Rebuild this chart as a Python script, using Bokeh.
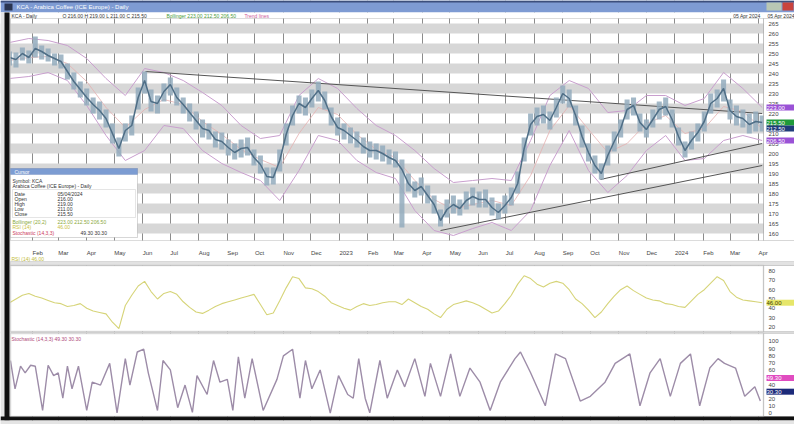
import pandas as pd
from bokeh.plotting import figure
from bokeh.models import (Range1d, FixedTicker, Label, LabelSet, BoxAnnotation,
                          ColumnDataSource)
from bokeh.core.properties import value
from bokeh.embed import file_html
from bokeh.resources import INLINE

FONT = "Liberation Sans"

# ---------------- data ----------------
week_start = "2022-01-07"   # weekly bars
close = [248.0, 247.0, 250.0, 248.0, 252.5, 251.0, 249.0, 247.5, 246.0, 241.0,
         236.0, 232.0, 228.0, 224.5, 221.5, 217.5, 210.0, 202.5, 211.5, 214.0,
         228.0, 236.5, 226.0, 225.0, 231.0, 234.5, 228.0, 224.5, 220.5, 216.5,
         212.5, 211.5, 207.0, 206.0, 203.0, 200.5, 202.5, 203.0, 198.0, 194.5,
         188.5, 188.0, 196.5, 209.5, 219.0, 225.0, 223.0, 227.5, 231.5, 226.5,
         218.5, 213.0, 211.5, 209.0, 206.5, 203.5, 201.5, 201.5, 200.0, 198.0,
         196.5, 192.0, 185.0, 181.5, 183.5, 179.0, 174.5, 166.5, 172.0, 174.5,
         172.5, 176.5, 178.5, 177.0, 177.0, 173.0, 170.5, 174.0, 178.0, 185.0,
         202.5, 214.5, 218.5, 219.5, 216.5, 223.0, 230.0, 227.5, 219.0, 208.5,
         200.5, 194.0, 190.0, 199.0, 206.0, 212.5, 222.0, 224.0, 215.5, 212.0,
         217.0, 222.0, 223.5, 217.0, 208.5, 201.5, 206.5, 210.5, 216.0, 225.0,
         227.5, 232.5, 221.5, 218.5, 217.5, 214.5, 216.0, 215.5]
high = [251, 250.5, 253, 251.5, 258.5, 254, 252.5, 250, 249.5, 245,
        240.5, 236, 232.5, 228, 226, 222, 215, 208, 215, 219,
        233, 241, 232, 229, 235, 238, 233, 228, 225, 221,
        217, 215, 211, 210.5, 207, 205, 207, 208, 202, 199,
        193, 193, 202, 215, 224, 229, 228, 232, 236, 231,
        223, 218, 215, 213, 211, 208, 206, 205, 204, 202,
        201, 197, 190, 186, 188, 184, 179, 172, 177, 179,
        177, 181, 183, 181, 182, 178, 175, 179, 183, 191,
        208, 220, 223, 224, 221, 228, 234, 232, 224, 214,
        205, 199, 195, 204, 211, 217, 227, 228, 220, 217,
        222, 226, 228, 222, 213, 206, 211, 215, 221, 230,
        232, 237, 227, 224, 222, 220, 221, 219]
low = [244, 243, 246.5, 245, 248, 247, 246, 244, 242.5, 237,
       232, 228, 224, 220, 217, 213, 205, 198.5, 206, 209,
       222, 230, 221, 220, 226, 229, 224, 220, 216, 212,
       208, 207, 203, 202, 199, 197, 198, 199, 194, 190,
       184, 184.5, 191, 204, 214, 220, 219, 223, 226, 222,
       214, 209, 207, 205, 203, 200, 198, 197, 196, 194.5,
       193, 163, 181, 178, 179, 175, 170, 163.5, 168, 170,
       169, 172, 174, 173, 173, 169, 167, 170, 174, 180,
       196, 209, 214, 215, 212, 218, 225, 223, 214, 203,
       196, 190, 187, 194, 201, 208, 217, 219, 211, 208,
       213, 217, 219, 213, 204, 198, 202, 206, 211, 220,
       223, 226, 217, 214, 213, 210, 211, 211]
# Bollinger bands, one value every third week
band_upper = [255.5, 257.5, 256.5, 254.0, 247.5, 237.5, 229.0, 242.5, 240.5, 236.5,
              230.5, 224.0, 214.0, 207.5, 209.0, 229.0, 237.5, 232.5, 222.5, 214.0,
              209.0, 201.5, 192.5, 185.5, 186.5, 187.5, 186.5, 206.5, 229.0, 236.5,
              232.5, 220.5, 221.5, 229.0, 229.0, 224.0, 227.5, 240.5, 232.5, 223.0]
band_mid = [246.5, 248.0, 248.5, 245.0, 236.0, 223.0, 213.0, 222.0, 227.0, 224.5,
            216.0, 209.5, 202.0, 197.0, 193.0, 210.0, 223.0, 219.5, 209.5, 202.0,
            198.0, 186.5, 177.0, 172.0, 174.5, 176.5, 174.0, 189.0, 211.5, 224.0,
            212.0, 200.5, 205.0, 215.0, 219.0, 210.0, 212.5, 223.5, 221.0, 212.5]
band_lower = [237.5, 238.5, 240.5, 236.5, 224.0, 209.0, 196.5, 201.5, 214.0, 212.5,
              201.5, 195.0, 190.5, 186.5, 176.5, 191.5, 209.0, 206.5, 196.5, 190.5,
              187.5, 171.5, 161.5, 159.0, 162.5, 165.5, 161.5, 171.5, 194.0, 211.5,
              191.5, 180.5, 189.0, 201.5, 209.0, 196.5, 197.5, 206.5, 209.0, 206.5]
# trend lines
resist_dates = ["2022-06-04", "2024-04-05"]
resist_vals = [241.0, 220.0]
support1_dates = ["2023-04-21", "2024-04-05"]
support1_vals = [161.5, 194.0]
support2_dates = ["2023-10-12", "2024-04-05"]
support2_vals = [187.0, 205.0]
# RSI(14), weekly
rsi = [46, 50, 54, 56, 53, 51, 48.5, 46, 45, 42,
       43, 45, 40, 37, 35.5, 34, 25, 18, 43, 54,
       64, 69, 58, 50, 56, 58, 55, 47, 41, 36,
       34.5, 38, 42, 45, 47, 49, 51, 53, 55, 44,
       33, 35, 48, 62, 74, 72, 62, 61, 58, 53,
       46, 43, 40, 38, 42, 45, 43, 44, 46, 47,
       47, 44, 50, 46, 42, 39, 34, 30, 39, 44,
       46, 48, 46, 43, 39, 35, 37, 45, 54, 66,
       75, 72, 66, 63, 67, 69, 67, 60, 50, 45,
       38, 30, 36, 45, 53, 60, 64, 59, 55, 51,
       49, 48, 45, 44, 42, 41, 48, 55, 60, 67,
       74, 70, 58, 52, 49, 48, 47, 46]
# Stochastic, turning points
stoch_dates = ["2022-01-08", "2022-01-13", "2022-01-19", "2022-01-24", "2022-01-30", "2022-02-04",
               "2022-02-12", "2022-02-18", "2022-02-24", "2022-03-01", "2022-03-06", "2022-03-11",
               "2022-03-16", "2022-03-23", "2022-04-01", "2022-04-07", "2022-04-16", "2022-04-26",
               "2022-05-04", "2022-05-13", "2022-05-18", "2022-05-26", "2022-06-02", "2022-06-07",
               "2022-06-17", "2022-06-23", "2022-07-01", "2022-07-09", "2022-07-17", "2022-07-25",
               "2022-07-30", "2022-08-10", "2022-08-17", "2022-08-24", "2022-09-01", "2022-09-07",
               "2022-09-13", "2022-09-20", "2022-09-28", "2022-10-10", "2022-10-25", "2022-11-01",
               "2022-11-11", "2022-11-19", "2022-11-25", "2022-12-02", "2022-12-11", "2022-12-22",
               "2022-12-31", "2023-01-10", "2023-01-16", "2023-01-22", "2023-01-29", "2023-02-03",
               "2023-02-14", "2023-02-22", "2023-03-05", "2023-03-13", "2023-03-24", "2023-04-04",
               "2023-04-10", "2023-04-21", "2023-05-02", "2023-05-12", "2023-05-23", "2023-06-03",
               "2023-06-14", "2023-06-25", "2023-07-11", "2023-07-17", "2023-07-28", "2023-08-13",
               "2023-08-24", "2023-09-04", "2023-09-20", "2023-10-01", "2023-10-17", "2023-10-28",
               "2023-11-13", "2023-11-24", "2023-12-05", "2023-12-16", "2023-12-27", "2024-01-07",
               "2024-01-18", "2024-01-28", "2024-02-08", "2024-02-17", "2024-02-24", "2024-03-07",
               "2024-03-17", "2024-03-28", "2024-04-03"]
stoch = [73.6, 34.3, 65.7, 56.5, 67.0, 65.7, 4.2, 67.0, 52.6, 56.5, 21.2, 65.7,
         34.3, 65.7, 4.2, 43.5, 39.5, 69.6, 1.0, 76.2, 39.5, 85.4, 89.3, 56.5,
         4.2, 73.6, 60.5, 8.1, 39.5, 1.6, 52.6, 26.4, 73.6, 43.5, 47.4, 4.2,
         78.8, 21.2, 76.2, 4.2, 47.4, 80.1, 89.3, 21.2, 73.6, 34.3, 60.5, 0.5,
         52.6, 26.4, 21.2, 76.2, 21.2, 1.0, 73.6, 21.2, 60.5, 37.0, 76.2, 23.8,
         69.6, 23.8, 82.7, 23.8, 63.1, 43.5, 4.2, 43.5, 76.2, 85.4, 56.5, 10.7,
         82.7, 76.2, 17.3, 23.8, 43.5, 69.6, 82.7, 10.7, 56.5, 76.2, 23.8, 69.6,
         82.7, 10.7, 63.1, 76.2, 69.6, 63.1, 23.8, 37.0, 17.3]
stoch_last = [49.3, 30.3]   # %K, %D tags
# axes
month_labels = ["Feb", "Mar", "Apr", "May", "Jun", "Jul", "Aug", "Sep", "Oct", "Nov", "Dec",
                "2023", "Feb", "Mar", "Apr", "May", "Jun", "Jul", "Aug", "Sep", "Oct", "Nov", "Dec",
                "2024", "Feb", "Mar", "Apr"]
price_ticks = list(range(160, 270, 5))
rsi_ticks = [20, 30, 40, 50, 60, 70, 80]
stoch_ticks = [0, 10, 20, 30, 40, 50, 60, 70, 80, 90, 100]

# ---------------- layout (pixel geometry of the window) ----------------
W, H = 794, 424
FX0, FX1 = 10, 763            # plot frames, left/right
MAIN_Y0, MAIN_Y1 = 18, 240    # price panel, top/bottom
RSI_Y0, RSI_Y1 = 265, 331
ST_Y0, ST_Y1 = 333, 416

dates = pd.date_range(week_start, periods=len(close), freq="7D")
band_dates = dates[::3]
month_starts = pd.date_range("2022-02-01", periods=len(month_labels), freq="MS")
month_ms = [float(t.value // 10**6) for t in month_starts]
sdates = pd.to_datetime(stoch_dates)

p = figure(width=W, height=H, x_axis_type="datetime",
           x_range=Range1d(pd.Timestamp("2021-12-28 04:20"), pd.Timestamp("2024-05-10 04:00")),
           y_range=Range1d(64.5, 276.5),
           x_axis_location=None, y_axis_location=None, min_border=0,
           output_backend="svg", toolbar_location=None)
p.extra_y_ranges = {"rsi": Range1d(-85.15, 371.46), "stoch": Range1d(-15.28, 573.61)}
p.outline_line_color = None
p.background_fill_color = "#ffffff"
p.border_fill_color = "#ffffff"

p.ygrid.ticker = FixedTicker(ticks=[150, 155] + price_ticks)
p.ygrid.grid_line_color = None
p.ygrid.band_fill_color = "#d7d7d7"
p.ygrid.band_fill_alpha = 1.0
p.xgrid.ticker = FixedTicker(ticks=month_ms)
p.xgrid.grid_line_color = "#8c8c8c"
p.xgrid.grid_line_width = 1


def sbox(x0, y0, x1, y1, fill=None, line=None, lw=1, level="annotation"):
    return BoxAnnotation(left=x0, right=x1, bottom=H - y1, top=H - y0,
                         left_units="screen", right_units="screen",
                         bottom_units="screen", top_units="screen",
                         fill_color=fill, fill_alpha=1 if fill else 0,
                         line_color=line, line_width=lw, level=level)


def slabel(x, y, text, color, size="5px", align="left", bg=None):
    return Label(x=x, y=H - y, x_units="screen", y_units="screen", text=text,
                 text_font=FONT, text_font_size=size, text_color=color,
                 text_align=align, text_baseline="middle",
                 background_fill_color=bg, background_fill_alpha=1 if bg else 0)


# panel backgrounds below the lines of the oscillators
p.add_layout(sbox(0, MAIN_Y1, W + 2, RSI_Y0, "#ffffff", level="underlay"))
p.add_layout(sbox(FX0, RSI_Y0, W + 2, RSI_Y1, "#ffffff", level="underlay"))
p.add_layout(sbox(0, RSI_Y1, W + 2, ST_Y0, "#dadada", level="underlay"))
p.add_layout(sbox(FX0, ST_Y0, W + 2, ST_Y1, "#ffffff", level="underlay"))

# ---------------- price panel ----------------
p.line(band_dates, band_upper, line_color="#c99fce", line_width=1)
p.line(band_dates, band_lower, line_color="#c99fce", line_width=1)
p.line(band_dates, band_mid, line_color="#e4b0b0", line_width=0.8)
p.line(pd.to_datetime(resist_dates), resist_vals, line_color="#555555", line_width=1)
p.line(pd.to_datetime(support1_dates), support1_vals, line_color="#555555", line_width=1)
p.line(pd.to_datetime(support2_dates), support2_vals, line_color="#555555", line_width=1)
p.vbar(x=dates, top=high, bottom=low, width=5.5 * 86400000, fill_color="#93abbd",
       fill_alpha=0.85, line_color=None)
p.line(dates, close, line_color="#4f6e86", line_width=1.5)

# ---------------- oscillators ----------------
p.line(dates, rsi, y_range_name="rsi", line_color="#d6d478", line_width=1.1)
p.line(sdates, stoch, y_range_name="stoch", line_color="#9d8ca8", line_width=1.4)

# ---------------- window chrome and frames ----------------
p.add_layout(sbox(0, 0, W + 2, 12, "#7e9bd3"))
p.add_layout(sbox(0, 0, W + 2, 2, "#3c4f7c"))
p.add_layout(sbox(4, 3, 12, 10, "#2a3550"))
p.add_layout(sbox(766, 2, 781, 10, "#b9c7b4"))
p.add_layout(sbox(782, 2, 793, 10, "#c9433d"))
p.add_layout(sbox(0, 12, W + 2, MAIN_Y0, "#ffffff"))
p.add_layout(sbox(FX1, MAIN_Y0, W + 2, MAIN_Y1, "#ffffff", "#7a7a7a"))
p.add_layout(sbox(FX1, RSI_Y0, W + 2, RSI_Y1, "#ffffff", "#7a7a7a"))
p.add_layout(sbox(FX1, ST_Y0, W + 2, ST_Y1, "#ffffff", "#7a7a7a"))
p.add_layout(sbox(0, 12, FX0, H, "#e4e4e4"))
p.add_layout(sbox(4, 12, 9, 420, "#101010"))
p.add_layout(sbox(0, 416, W + 2, 420, "#101010"))
p.add_layout(sbox(0, 420, W + 2, H + 2, "#e4e4e4"))
p.add_layout(sbox(FX0, MAIN_Y0, FX1, MAIN_Y1, None, "#8a8a8a"))
p.add_layout(sbox(FX0, 261, W + 2, RSI_Y0, "#e2e2e2", "#a2a2a2"))
p.add_layout(sbox(FX0, RSI_Y0, FX1, RSI_Y1, None, "#9a9a9a", 1.5))
p.add_layout(sbox(FX0, ST_Y0, FX1, ST_Y1, None, "#9a9a9a", 1.5))

# title bar and legend line
p.add_layout(slabel(16, 6, "KCA - Arabica Coffee (ICE Europe) - Daily", "#ffffff", "6px"))
hdr = [(11, "KCA - Daily", "#333333"),
       (62, f"O {close[-2]:.2f}  H {high[-1]:.2f}  L {low[-1]:.2f}  C {close[-1]:.2f}", "#333333"),
       (166, f"Bollinger {band_upper[-1]:.2f} {band_mid[-1]:.2f} {band_lower[-1]:.2f}", "#4a9a3a"),
       (244, "Trend lines", "#cc5a9a")]
for x, t, c in hdr:
    p.add_layout(slabel(x, 15, t, c))
p.add_layout(slabel(760, 15, dates[-1].strftime("%d %b %Y"), "#333333", align="right"))
p.add_layout(slabel(767, 15, dates[-1].strftime("%d %b %Y"), "#333333"))

# axis labels
src_m = ColumnDataSource(dict(x=month_ms, t=month_labels))
p.add_layout(LabelSet(x="x", y=H - 252, y_units="screen", text="t", source=src_m,
                      x_offset=0, text_font=value(FONT), text_font_size="6px",
                      text_color="#444444", text_baseline="middle", text_align="left"))
src_p = ColumnDataSource(dict(y=price_ticks, t=[str(v) for v in price_ticks]))
p.add_layout(LabelSet(x=FX1 + 5, x_units="screen", y="y", text="t", source=src_p,
                      text_font=value(FONT), text_font_size="6px", text_color="#444444",
                      text_baseline="middle"))
src_r = ColumnDataSource(dict(y=rsi_ticks, t=[str(v) for v in rsi_ticks]))
p.add_layout(LabelSet(x=FX1 + 5, x_units="screen", y="y", text="t", source=src_r,
                      y_range_name="rsi", text_font=value(FONT), text_font_size="6px",
                      text_color="#444444", text_baseline="middle"))
src_s = ColumnDataSource(dict(y=stoch_ticks, t=[str(v) for v in stoch_ticks]))
p.add_layout(LabelSet(x=FX1 + 5, x_units="screen", y="y", text="t", source=src_s,
                      y_range_name="stoch", text_font=value(FONT), text_font_size="6px",
                      text_color="#444444", text_baseline="middle"))

# indicator legends
p.add_layout(slabel(11, 258, f"RSI (14)  {rsi[-1]:.2f}", "#c2bc3a"))
p.add_layout(slabel(11, 338, f"Stochastic (14,3,3)  {stoch_last[0]:.2f}  {stoch_last[1]:.2f}",
                    "#b04a7a"))

# info window
p.add_layout(sbox(FX0, 168, 137, 237, "#ffffff", "#7a7a7a"))
p.add_layout(sbox(FX0, 168, 137, 174, "#7c9cd2", "#5a78b0"))
p.add_layout(sbox(12, 189, 135, 217, None, "#a8a8a8"))
info_rows = [
    (14, 171, "Cursor", "#ffffff"),
    (12, 180, "Symbol: KCA", "#333333"),
    (12, 185, "Arabica Coffee (ICE Europe) - Daily", "#333333"),
    (14, 193, "Date", "#333333"), (57, 193, dates[-1].strftime("%d/%m/%Y"), "#333333"),
    (14, 198, "Open", "#333333"), (57, 198, f"{close[-2]:.2f}", "#333333"),
    (14, 203, "High", "#333333"), (57, 203, f"{high[-1]:.2f}", "#333333"),
    (14, 208, "Low", "#333333"), (57, 208, f"{low[-1]:.2f}", "#333333"),
    (14, 213, "Close", "#333333"), (57, 213, f"{close[-1]:.2f}", "#333333"),
    (12, 221, "Bollinger (20,2)", "#8aa83a"),
    (57, 221, f"{band_upper[-1]:.2f}  {band_mid[-1]:.2f}  {band_lower[-1]:.2f}", "#8aa83a"),
    (12, 226, "RSI (14)", "#c8c040"), (57, 226, f"{rsi[-1]:.2f}", "#c8c040"),
    (12, 232, "Stochastic (14,3,3)", "#cc4060"),
    (80, 232, f"{stoch_last[0]:.2f}  {stoch_last[1]:.2f}", "#333333"),
]
for x, y, t, c in info_rows:
    p.add_layout(slabel(x, y, t, c))

# value tags on the right axes
def tag(v, color, txt_color="#ffffff", rng="default"):
    return Label(x=FX1 + 3, x_units="screen", y=v, y_range_name=rng,
                 text=f" {v:.2f}       ", text_font=FONT, text_font_size="6px",
                 text_color=txt_color, text_baseline="middle",
                 background_fill_color=color, background_fill_alpha=1)

for v, c in [(band_upper[-1], "#9a52d6"), (close[-1], "#1f9a3a"),
             (band_mid[-1], "#203c7a"), (band_lower[-1], "#9a52d6")]:
    p.add_layout(tag(v, c))
p.add_layout(tag(rsi[-1], "#e6e66a", "#444400", "rsi"))
p.add_layout(tag(stoch_last[0], "#e04cc0", rng="stoch"))
p.add_layout(tag(stoch_last[1], "#1c2a7a", rng="stoch"))

open("out.html", "w").write(file_html(p, INLINE))
